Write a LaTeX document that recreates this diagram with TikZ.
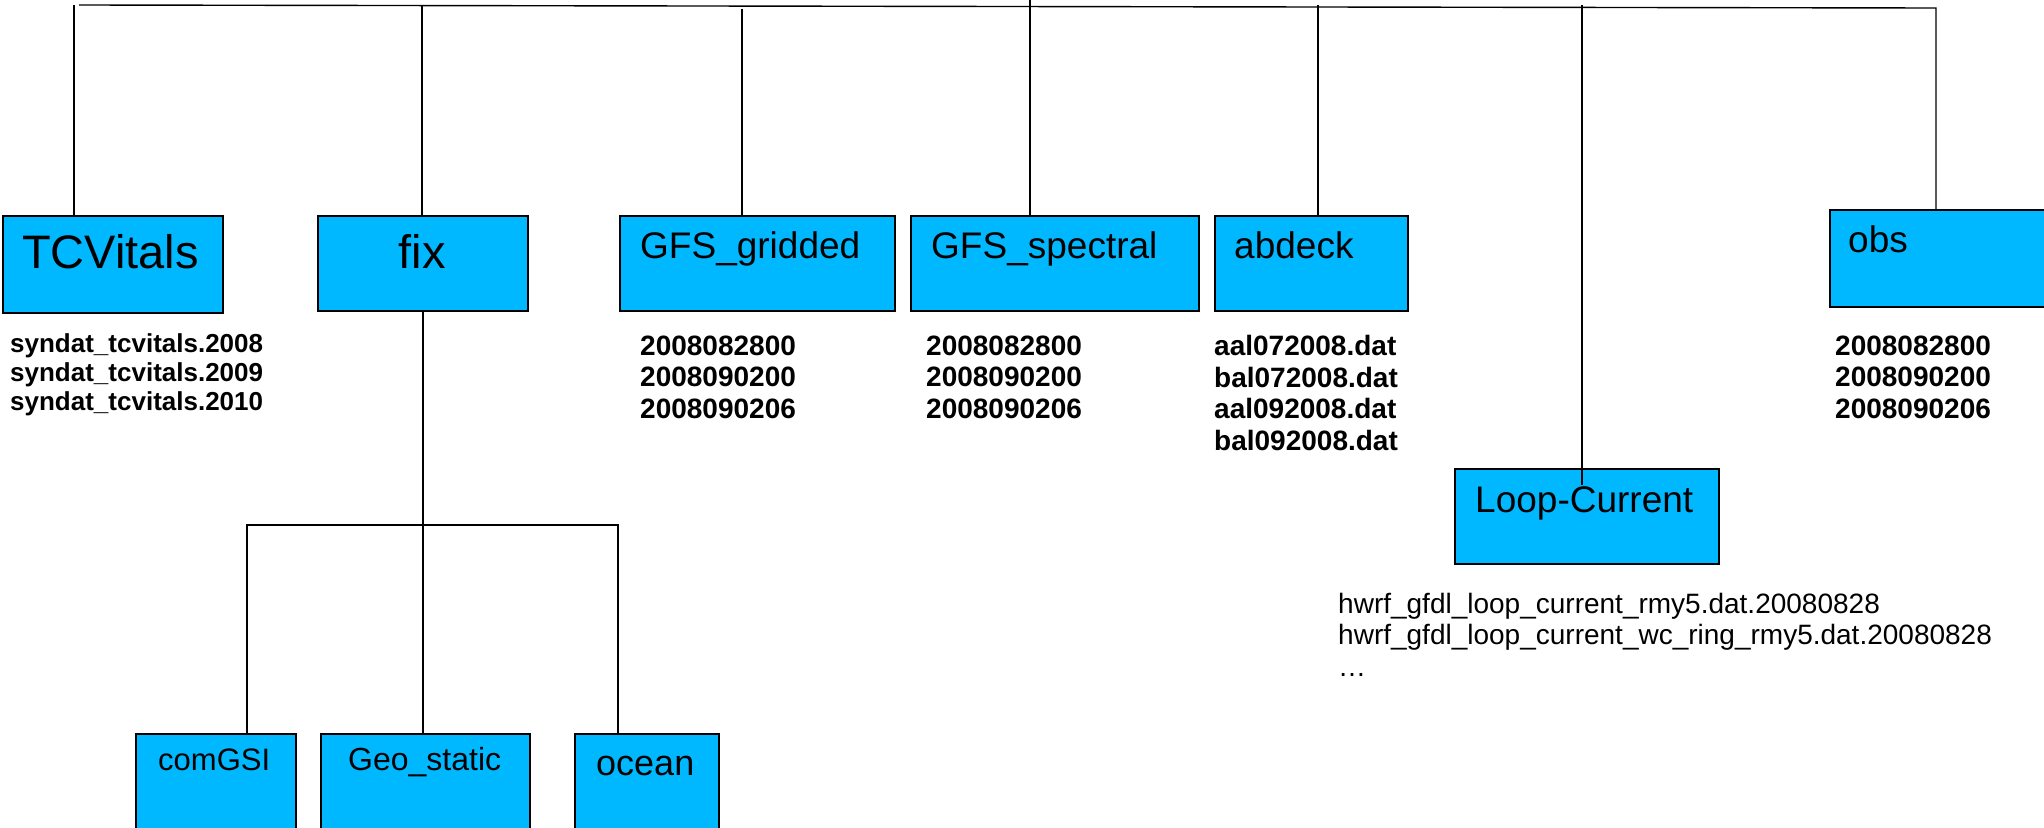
\documentclass[tikz,border=0pt]{standalone}
\usepackage{fontspec}
\setmainfont{Liberation Sans}
\usetikzlibrary{calc}
\definecolor{folderblue}{HTML}{00B8FF}
\tikzset{
  folder/.style={draw=black, line width=1.8pt, fill=folderblue, anchor=north west, inner sep=0pt},
  wire/.style={draw=black, line width=1.4pt},
  dirname/.style={anchor=base west, inner sep=0pt},
  % multi-line lists are placed by the baseline of their last line
  files/.style={anchor=base west, inner sep=0pt, align=left, font=\bfseries\fontsize{28}{31.5}\selectfont},
}

\begin{document}
\begin{tikzpicture}[x=1pt,y=-1pt]
  \useasboundingbox (0,0) rectangle (2044,827);
  % top level folders
  \node[folder, minimum width=220pt, minimum height=97pt] (tcv)    at (2,215)    {};
  \node[folder, minimum width=210pt, minimum height=95pt] (fix)    at (317,215)  {};
  \node[folder, minimum width=275pt, minimum height=95pt] (gfsg)   at (619,215)  {};
  \node[folder, minimum width=288pt, minimum height=95pt] (gfss)   at (910,215)  {};
  \node[folder, minimum width=193pt, minimum height=95pt] (abdeck) at (1214,215) {};
  \node[folder, minimum width=225pt, minimum height=97pt] (obs)    at (1829,209) {};
  \node[folder, minimum width=264pt, minimum height=95pt] (loop)   at (1454,468) {};
  % sub folders of fix
  \node[folder, minimum width=160pt, minimum height=100pt] (comgsi) at (135,733) {};
  \node[folder, minimum width=209pt, minimum height=100pt] (geo)    at (320,733) {};
  \node[folder, minimum width=144pt, minimum height=100pt] (ocean)  at (574,733) {};

  % folder names
  \node[dirname, font=\fontsize{47}{56}\selectfont] (tcv-name) at (22,268) {TCVitals};
  \node[dirname, font=\fontsize{47}{56}\selectfont, anchor=base] (fix-name) at (422,268) {fix};
  \node[dirname, font=\fontsize{37}{44}\selectfont] (gfsg-name) at (640,258) {GFS\_gridded};
  \node[dirname, font=\fontsize{37}{44}\selectfont] (gfss-name) at (931,258) {GFS\_spectral};
  \node[dirname, font=\fontsize{37}{44}\selectfont] (abdeck-name) at (1234,258) {abdeck};
  \node[dirname, font=\fontsize{37}{44}\selectfont] (obs-name) at (1848,252) {obs};
  \node[dirname, font=\fontsize{37}{44}\selectfont] (loop-name) at (1475,512) {Loop-Current};
  \node[dirname, font=\fontsize{31}{37}\selectfont] (comgsi-name) at (158,770) {comGSI};
  \node[dirname, font=\fontsize{32}{38}\selectfont] (geo-name) at (348,770) {Geo\_static};
  \node[dirname, font=\fontsize{36}{43}\selectfont] (ocean-name) at (596,775) {ocean};

  % file lists
  \node[files, font=\bfseries\fontsize{26}{29}\selectfont] (tcv-files) at (10,410)
    {syndat\_tcvitals.2008\\syndat\_tcvitals.2009\\syndat\_tcvitals.2010};
  \node[files] (gfsg-files) at (640,418) {2008082800\\2008090200\\2008090206};
  \node[files] (gfss-files) at (926,418) {2008082800\\2008090200\\2008090206};
  \node[files] (abdeck-files) at (1214,450)
    {aal072008.dat\\bal072008.dat\\aal092008.dat\\bal092008.dat};
  \node[files] (obs-files) at (1835,418) {2008082800\\2008090200\\2008090206};
  \node[files, font=\fontsize{28}{31.5}\selectfont] (loop-files) at (1338,676)
    {hwrf\_gfdl\_loop\_current\_rmy5.dat.20080828\\hwrf\_gfdl\_loop\_current\_wc\_ring\_rmy5.dat.20080828\\…};

  % top bus and drops
  \coordinate (bus-l) at (79,5);
  \coordinate (bus-r) at (1936,8);
  \coordinate (j-tcv) at (74,5);
  \coordinate (j-fix) at (422,6);
  \coordinate (j-gfsg) at (742,9);
  \coordinate (j-gfss) at (1030,0);
  \coordinate (j-abdeck) at (1318,5);
  \coordinate (j-loop) at (1582,5);
  \coordinate (j-loop-end) at (1582,485);
  \draw[wire] (bus-l) -- (bus-r) -- (bus-r |- obs.north);
  \draw[wire] (j-tcv) -- (j-tcv |- tcv.north);
  \draw[wire] (j-fix) -- (j-fix |- fix.north);
  \draw[wire] (j-gfsg) -- (j-gfsg |- gfsg.north);
  \draw[wire] (j-gfss) -- (j-gfss |- gfss.north);
  \draw[wire] (j-abdeck) -- (j-abdeck |- abdeck.north);
  \draw[wire] (j-loop) -- (j-loop-end);

  % branch below fix
  \coordinate (sub-l) at (247,525);
  \coordinate (sub-r) at (618,525);
  \draw[wire] (fix.south) -- (fix.south |- geo.north);
  \draw[wire] (comgsi.north -| sub-l) -- (sub-l) -- (sub-r) -- (sub-r |- ocean.north);
\end{tikzpicture}
\end{document}
